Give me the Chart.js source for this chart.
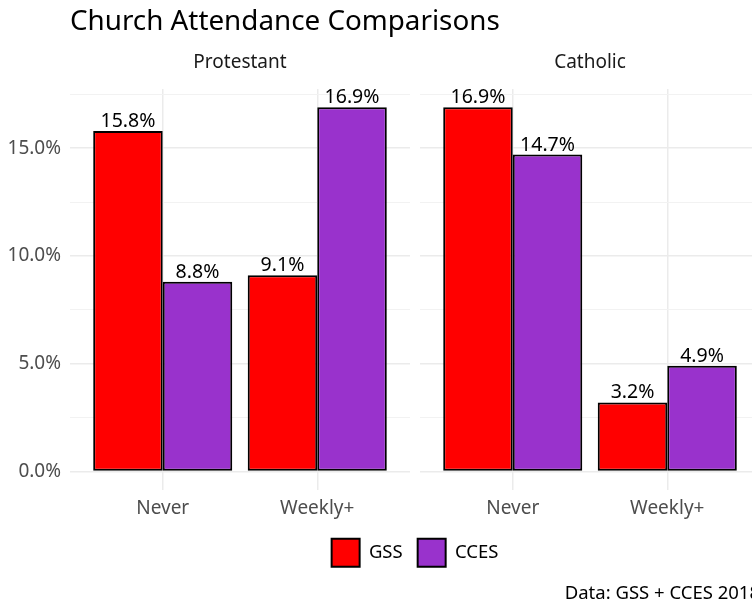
<!DOCTYPE html>
<html>
<head>
<meta charset="utf-8">
<script src="https://cdn.jsdelivr.net/npm/chart.js@4"></script>
<style>
    html, body { margin: 0; padding: 0; background: #fff; width: 752px; height: 602px; overflow: hidden; }
    canvas { display: block; }
</style>
</head>
<body>
<canvas id="attendanceChart" width="760" height="602"></canvas>
<script>
const facets = ['Protestant', 'Catholic']
const categories = ['Never', 'Weekly+']
const seriesNames = ['GSS', 'CCES']
// one value per facet/category, in facet order
const gssValues = [15.8, 9.1, 16.9, 3.2]
const ccesValues = [8.8, 16.9, 14.7, 4.9]
const yTicks = [0, 2.5, 5, 7.5, 10, 12.5, 15, 17.5]

const FONT = '"Noto Sans", "Open Sans", sans-serif'
const COLORS = { gss: '#FF0000', cces: '#9932CC', grid: '#EBEBEB', minorGrid: '#F2F2F2' }

// facet geometry in x units (ggplot style discrete expansion)
const EXPAND = 0.6
const PANEL_GAP = 0.065
const PANEL_WIDTH = categories.length - 1 + 2 * EXPAND
const X_MIN = 1 - EXPAND
const X_MAX = X_MIN + facets.length * PANEL_WIDTH + (facets.length - 1) * PANEL_GAP

const xFor = (f, c) => X_MIN + f * (PANEL_WIDTH + PANEL_GAP) + EXPAND + c
const panelCenter = f => X_MIN + f * (PANEL_WIDTH + PANEL_GAP) + PANEL_WIDTH / 2

const points = values => values.map((v, i) => ({
    x: xFor(Math.floor(i / categories.length), i % categories.length),
    y: v
}))

const categoryTicks = []
const categoryTickLabels = []
facets.forEach((f, fi) => categories.forEach((c, ci) => {
    categoryTicks.push(xFor(fi, ci))
    categoryTickLabels.push(c)
}))

// blank strip between the facet panels
const panelGapPlugin = {
    id: 'panelGap',
    beforeDatasetsDraw(chart) {
        const { ctx, chartArea, scales } = chart
        ctx.save()
        ctx.fillStyle = '#FFFFFF'
        for (let f = 0; f < facets.length - 1; f++) {
            const start = X_MIN + (f + 1) * PANEL_WIDTH + f * PANEL_GAP
            const x0 = scales.x.getPixelForValue(start)
            const x1 = scales.x.getPixelForValue(start + PANEL_GAP)
            ctx.fillRect(x0, chartArea.top - 1, x1 - x0, chartArea.bottom - chartArea.top + 2)
        }
        ctx.restore()
    }
}

const barLabelPlugin = {
    id: 'barLabels',
    afterDatasetsDraw(chart) {
        const { ctx } = chart
        ctx.save()
        ctx.font = '19.5px ' + FONT
        ctx.fillStyle = '#000000'
        ctx.textAlign = 'center'
        ctx.textBaseline = 'alphabetic'
        chart.data.datasets.forEach((dataset, di) => {
            chart.getDatasetMeta(di).data.forEach((bar, i) => {
                ctx.fillText(dataset.data[i].y.toFixed(1) + '%', bar.x, bar.y - 4)
            })
        })
        ctx.restore()
    }
}

const ctx = document.getElementById('attendanceChart').getContext('2d')
new Chart(ctx, {
    type: 'bar',
    data: {
        datasets: [{
            label: seriesNames[0],
            data: points(gssValues),
            backgroundColor: COLORS.gss,
            borderColor: '#000000',
            borderWidth: 2,
            borderSkipped: false
        }, {
            label: seriesNames[1],
            data: points(ccesValues),
            backgroundColor: COLORS.cces,
            borderColor: '#000000',
            borderWidth: 2,
            borderSkipped: false
        }]
    },
    options: {
        responsive: false,
        animation: false,
        devicePixelRatio: 1,
        layout: { padding: 0 },
        datasets: {
            bar: { categoryPercentage: 0.9, barPercentage: 1 }
        },
        scales: {
            x: {
                type: 'linear',
                position: 'bottom',
                min: X_MIN,
                max: X_MAX,
                bounds: 'data',
                offset: false,
                afterBuildTicks: scale => { scale.ticks = categoryTicks.map(v => ({ value: v })) },
                afterFit: scale => { scale.height = 34 },
                ticks: {
                    callback: (value, index) => categoryTickLabels[index],
                    autoSkip: false,
                    maxRotation: 0,
                    padding: 7.6,
                    color: '#4D4D4D',
                    font: { family: FONT, size: 19 }
                },
                grid: { offset: false, color: COLORS.grid, lineWidth: 1.5, drawTicks: false },
                border: { display: false }
            },
            strip: {
                type: 'linear',
                axis: 'x',
                position: 'top',
                min: X_MIN,
                max: X_MAX,
                bounds: 'data',
                offset: false,
                afterBuildTicks: scale => { scale.ticks = facets.map((f, i) => ({ value: panelCenter(i) })) },
                afterFit: scale => { scale.height = 48.6 },
                ticks: {
                    callback: (value, index) => facets[index],
                    autoSkip: false,
                    maxRotation: 0,
                    padding: 14.6,
                    color: '#1A1A1A',
                    font: { family: FONT, size: 19 }
                },
                grid: { display: false, drawTicks: false },
                border: { display: false }
            },
            y: {
                min: -0.845,
                max: 17.745,
                bounds: 'data',
                afterBuildTicks: scale => { scale.ticks = yTicks.map(v => ({ value: v })) },
                afterFit: scale => { scale.width = 70 },
                ticks: {
                    callback: value => value % 5 === 0 ? value.toFixed(1) + '%' : '',
                    autoSkip: false,
                    padding: 9,
                    color: '#4D4D4D',
                    font: { family: FONT, size: 19 }
                },
                grid: {
                    color: c => c.tick && c.tick.value % 5 === 0 ? COLORS.grid : COLORS.minorGrid,
                    lineWidth: c => c.tick && c.tick.value % 5 === 0 ? 1.5 : 1,
                    drawTicks: false
                },
                border: { display: false }
            }
        },
        plugins: {
            title: {
                display: true,
                text: 'Church Attendance Comparisons',
                align: 'start',
                fullSize: false,
                color: '#000000',
                font: { family: FONT, size: 27.8, weight: 'normal' },
                padding: { top: 5, bottom: 2 }
            },
            subtitle: {
                display: true,
                position: 'bottom',
                text: 'Data: GSS + CCES 2018',
                align: 'end',
                color: '#000000',
                font: { family: FONT, size: 18.5, weight: 'normal', lineHeight: 1.1 },
                padding: { top: 7, bottom: -2 }
            },
            legend: {
                position: 'bottom',
                fullSize: false,
                labels: {
                    boxWidth: 28,
                    boxHeight: 28,
                    padding: 15,
                    color: '#000000',
                    font: { family: FONT, size: 18.5 }
                }
            },
            tooltip: { enabled: false }
        }
    },
    plugins: [panelGapPlugin, barLabelPlugin]
})
</script>
</body>
</html>
